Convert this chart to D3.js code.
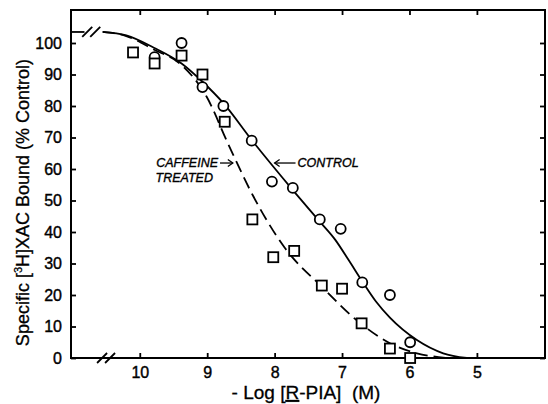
<!DOCTYPE html>
<html>
<head>
<meta charset="utf-8">
<script src="https://cdn.jsdelivr.net/npm/d3@7"></script>
<style>
  body { margin: 0; background: #fff; }
  svg { display: block; }
  text { white-space: pre; }
</style>
</head>
<body>
<div id="chart"></div>
<script>
// -log [R-PIA] (M) on x, % of control binding on y
const xTicks = [10, 9, 8, 7, 6, 5];
const yTicks = [0, 10, 20, 30, 40, 50, 60, 70, 80, 90, 100];

const controlDose = [9.78, 9.38, 9.07, 8.76, 8.34, 8.04, 7.73, 7.33, 7.02, 6.70, 6.29, 5.99];
const controlBound = [95.5, 100, 86, 80, 69, 56, 54, 44, 41, 24, 20, 5];

const caffeineDose = [10.10, 9.78, 9.38, 9.07, 8.74, 8.33, 8.02, 7.71, 7.30, 7.00, 6.71, 6.29, 5.99];
const caffeineBound = [97, 93.5, 96, 90, 75, 44, 32, 34, 23, 22, 11, 3, 0];

// fitted curves
const controlCurveDose = [10.55, 10.2, 9.79, 9.38, 9.07, 8.76, 8.34, 7.73, 7.33, 7.1, 6.9, 6.7, 6.5, 6.29, 5.89, 5.5, 5.15];
const controlCurveBound = [103.5, 102.4, 98.5, 93.5, 87.7, 80.9, 69.2, 53.3, 43.3, 37.5, 31, 24.3, 18, 12.8, 5.7, 1.5, 0];

const caffeineCurveDose = [10.55, 10.2, 9.8, 9.38, 9.01, 8.69, 8.32, 7.85, 7.30, 6.71, 6.29, 5.89, 5.45];
const caffeineCurveBound = [103.5, 102.2, 98, 93, 83, 68, 51.5, 35, 22.6, 10.7, 4.7, 1.5, 0];

const width = 548, height = 404;
const margin = {top: 10, right: 3, bottom: 46, left: 71};

const svg = d3.select("#chart").append("svg")
  .attr("width", width)
  .attr("height", height)
  .attr("font-family", "Liberation Sans, Arial, sans-serif");

const x = d3.scaleLinear()
  .domain([11.02, 3.99])
  .range([margin.left, width - margin.right]);
const y = d3.scaleLinear()
  .domain([0, 100])
  .range([height - margin.bottom, 43]);

const plotBottom = height - margin.bottom;
const plotRight = width - margin.right;

// frame with inward ticks on all sides
svg.append("rect")
  .attr("x", margin.left).attr("y", margin.top)
  .attr("width", plotRight - margin.left)
  .attr("height", plotBottom - margin.top)
  .attr("fill", "none").attr("stroke", "#000").attr("stroke-width", 2);

const xAxis = svg.append("g")
  .attr("transform", `translate(0,${plotBottom})`)
  .call(d3.axisBottom(x).tickValues(xTicks).tickSize(-5).tickPadding(9).tickFormat(d3.format("d")));
const xTop = svg.append("g")
  .attr("transform", `translate(0,${margin.top})`)
  .call(d3.axisTop(x).tickValues(xTicks).tickSize(-5).tickFormat(""));
const yAxis = svg.append("g")
  .attr("transform", `translate(${margin.left},0)`)
  .call(d3.axisLeft(y).tickValues(yTicks).tickSize(-5).tickPadding(9));
const yRight = svg.append("g")
  .attr("transform", `translate(${plotRight},0)`)
  .call(d3.axisRight(y).tickValues(yTicks).tickSize(-5).tickFormat(""));

[xAxis, xTop, yAxis, yRight].forEach(g => {
  g.select(".domain").remove();
  g.selectAll(".tick line").attr("stroke", "#000").attr("stroke-width", 1.8);
  g.selectAll("text").attr("font-size", "16px").attr("fill", "#000")
    .attr("stroke", "#000").attr("stroke-width", 0.4);
});

// axis break on the x axis
const breakX = 10.5;
[-4, 4].forEach(dx => {
  svg.append("line")
    .attr("x1", x(breakX) + dx - 5).attr("y1", plotBottom + 5)
    .attr("x2", x(breakX) + dx + 5).attr("y2", plotBottom - 5)
    .attr("stroke", "#000").attr("stroke-width", 1.8);
});

// zero-dose level, then the break, then the curves
const topLevel = 103.5;
svg.append("line")
  .attr("x1", x(11.02)).attr("y1", y(topLevel))
  .attr("x2", x(10.82)).attr("y2", y(topLevel))
  .attr("stroke", "#000").attr("stroke-width", 1.8);
const breakTop = 10.72;
[-4, 4].forEach(dx => {
  svg.append("line")
    .attr("x1", x(breakTop) + dx - 5).attr("y1", y(topLevel) + 5)
    .attr("x2", x(breakTop) + dx + 5).attr("y2", y(topLevel) - 5)
    .attr("stroke", "#000").attr("stroke-width", 1.8);
});

const line = d3.line()
  .x(d => x(d[0]))
  .y(d => y(d[1]))
  .curve(d3.curveMonotoneX);

svg.append("path")
  .datum(d3.zip(controlCurveDose, controlCurveBound))
  .attr("fill", "none").attr("stroke", "#000").attr("stroke-width", 1.8)
  .attr("d", line);

svg.append("path")
  .datum(d3.zip(caffeineCurveDose, caffeineCurveBound))
  .attr("fill", "none").attr("stroke", "#000").attr("stroke-width", 1.8)
  .attr("stroke-dasharray", "12,6")
  .attr("d", line);

svg.append("g").selectAll("circle")
  .data(d3.zip(controlDose, controlBound))
  .join("circle")
  .attr("cx", d => x(d[0])).attr("cy", d => y(d[1]))
  .attr("r", 5)
  .attr("fill", "#fff").attr("stroke", "#000").attr("stroke-width", 1.8);

const sq = 10;
svg.append("g").selectAll("rect")
  .data(d3.zip(caffeineDose, caffeineBound))
  .join("rect")
  .attr("x", d => x(d[0]) - sq / 2).attr("y", d => y(d[1]) - sq / 2)
  .attr("width", sq).attr("height", sq)
  .attr("fill", "#fff").attr("stroke", "#000").attr("stroke-width", 1.8);

// annotations
const arrow = (x1, x2, yy) => {
  const dir = Math.sign(x2 - x1);
  svg.append("line")
    .attr("x1", x1).attr("y1", yy).attr("x2", x2).attr("y2", yy)
    .attr("stroke", "#000").attr("stroke-width", 1.3);
  svg.append("path")
    .attr("d", `M${x2 - dir * 5},${yy - 3.5}L${x2},${yy}L${x2 - dir * 5},${yy + 3.5}`)
    .attr("fill", "none").attr("stroke", "#000").attr("stroke-width", 1.3);
};
const labelY = 61.9;
const note = (tx, ty, anchor, str) => svg.append("text")
  .attr("x", tx).attr("y", ty)
  .attr("text-anchor", anchor)
  .attr("font-size", "12.5px").attr("font-style", "italic")
  .attr("stroke", "#000").attr("stroke-width", 0.35)
  .text(str);
note(x(8.81) - 2, y(labelY) + 4, "end", "CAFFEINE");
note(x(8.81) - 7, y(labelY) + 19, "end", "TREATED");
arrow(x(8.81), x(8.62), y(labelY));
arrow(x(7.69), x(8.0), y(labelY));
note(x(7.69) + 2, y(labelY) + 4, "start", "CONTROL");

// axis titles
const yTitle = svg.append("text")
  .attr("transform", `translate(29,${(43 + plotBottom) / 2 + 2})rotate(-90)`)
  .attr("text-anchor", "middle")
  .attr("font-size", "18px")
  .attr("stroke", "#000").attr("stroke-width", 0.3);
yTitle.append("tspan").text("Specific [");
yTitle.append("tspan").attr("font-size", "11px").attr("dy", -7).text("3");
yTitle.append("tspan").attr("dy", 7).text("H]XAC Bound (% Control)");

const xTitle = svg.append("text")
  .attr("x", 306).attr("y", 399)
  .attr("text-anchor", "middle")
  .attr("font-size", "19px")
  .attr("stroke", "#000").attr("stroke-width", 0.3);
xTitle.append("tspan").text("- Log [");
xTitle.append("tspan").attr("text-decoration", "underline").text("R");
xTitle.append("tspan").text("-PIA]  (M)");
</script>
</body>
</html>
